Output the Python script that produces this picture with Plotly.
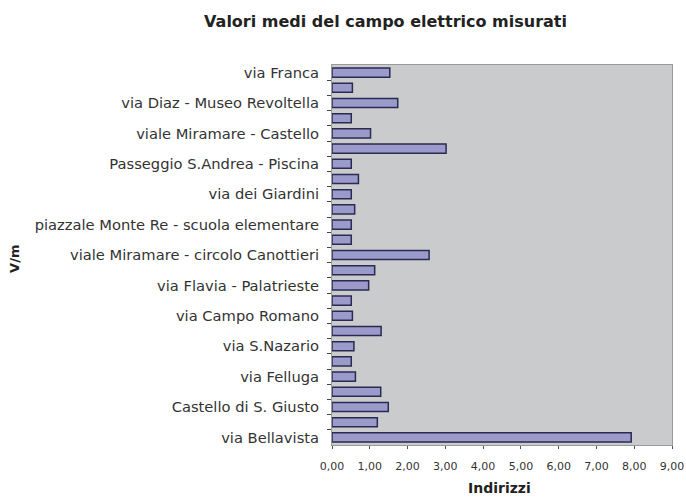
import plotly.graph_objects as go

# Mean electric field values (V/m), listed bottom to top
labels = [
    "via Bellavista", "", "Castello di S. Giusto", "", "via Felluga", "",
    "via S.Nazario", "", "via Campo Romano", "", "via Flavia - Palatrieste", "",
    "viale Miramare - circolo Canottieri", "", "piazzale Monte Re - scuola elementare", "",
    "via dei Giardini", "", "Passeggio S.Andrea - Piscina", "",
    "viale Miramare - Castello", "", "via Diaz - Museo Revoltella", "", "via Franca",
]
values = [
    7.92, 1.20, 1.49, 1.29, 0.62, 0.51, 0.58, 1.30, 0.54, 0.51, 0.97, 1.13,
    2.57, 0.51, 0.51, 0.60, 0.51, 0.70, 0.51, 3.02, 1.02, 0.51, 1.74, 0.54, 1.53,
]
x_ticks = [0, 1, 2, 3, 4, 5, 6, 7, 8, 9]

positions = list(range(len(values)))
label_pos = [p for p, t in zip(positions, labels) if t]
label_txt = [t for t in labels if t]

FONT = "DejaVu Sans, Liberation Sans, Arial, sans-serif"

fig = go.Figure(go.Bar(
    x=values,
    y=positions,
    orientation="h",
    width=0.6,
    marker=dict(color="#9b9bcb", line=dict(color="#2b2b52", width=1.5)),
    hoverinfo="x",
))

fig.update_layout(
    width=686,
    height=498,
    margin=dict(l=332, r=14, t=65, b=53),
    paper_bgcolor="white",
    plot_bgcolor="#c9cbcd",
    separators=",.",
    font=dict(family=FONT, color="#333333"),
    showlegend=False,
    title=dict(
        text="<b>Valori medi del campo elettrico misurati</b>",
        x=0.562, xanchor="center", y=0.958, yanchor="middle",
        font=dict(size=16, color="#222222"),
    ),
    bargap=0.4,
)

fig.update_xaxes(
    range=[0, 9],
    tickvals=x_ticks,
    tickformat=".2f",
    ticks="outside",
    ticklen=3,
    tickcolor="#555555",
    tickfont=dict(size=11, color="#333333"),
    ticklabelstandoff=8,
    automargin=False,
    showgrid=False,
    zeroline=False,
    showline=True,
    linecolor="#9a9a9a",
    linewidth=1,
    mirror=True,
)

fig.update_yaxes(
    range=[-0.5, len(values) - 0.5],
    tickvals=label_pos,
    ticktext=label_txt,
    ticks="",
    tickfont=dict(size=14.7, color="#333333"),
    ticklabelstandoff=9,
    automargin=False,
    minor=dict(
        tickmode="array",
        tickvals=[p + 0.5 for p in positions[:-1]],
        ticks="outside",
        ticklen=4,
        tickcolor="#444444",
        showgrid=False,
    ),
    showgrid=False,
    zeroline=False,
    showline=True,
    linecolor="#9a9a9a",
    linewidth=1,
    mirror=True,
)

fig.add_annotation(
    text="<b>Indirizzi</b>",
    xref="paper", yref="paper", x=0.494, y=-0.113,
    xanchor="center", yanchor="middle", showarrow=False,
    font=dict(size=14, color="#222222"),
)

fig.add_annotation(
    text="<b>V/m</b>", textangle=-90,
    xref="paper", yref="paper", x=-0.932, y=0.49,
    xanchor="center", yanchor="middle", showarrow=False,
    font=dict(size=13, color="#222222"),
)

fig.write_html("out.html")
